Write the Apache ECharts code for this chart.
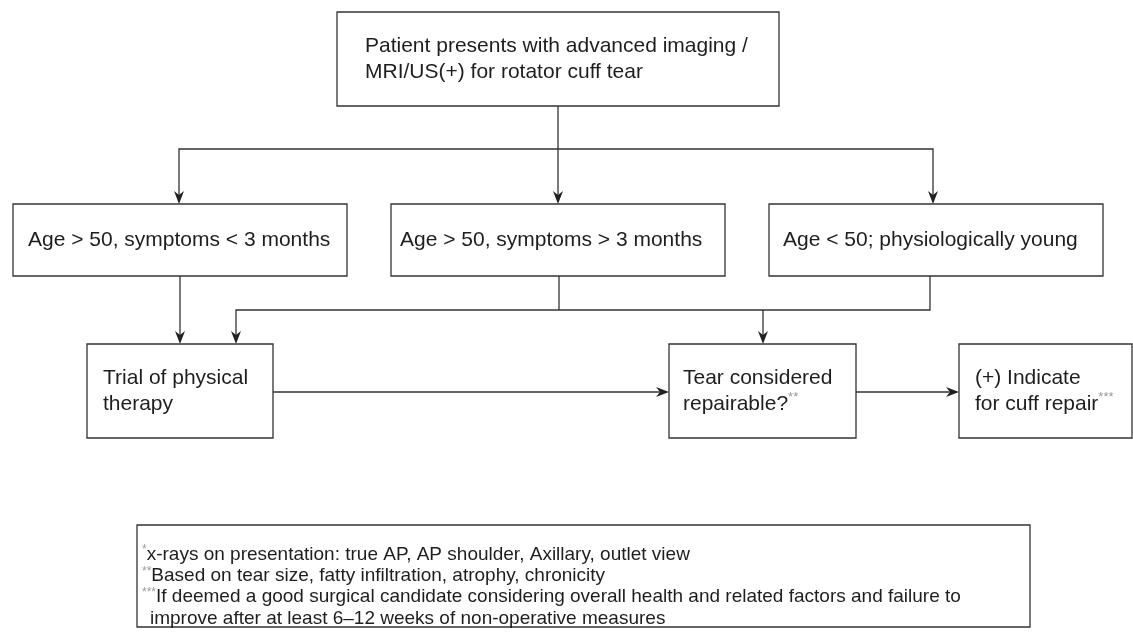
<!DOCTYPE html>
<html>
<head>
<meta charset="utf-8">
<script src="https://cdn.jsdelivr.net/npm/echarts@6/dist/echarts.min.js"></script>
<style>
  html, body { margin: 0; padding: 0; background: #fff; }
  #chart { width: 1133px; height: 639px; }
</style>
</head>
<body>
<div id="chart"></div>
<script>
// flowchart nodes (page coords, y grows down)
const nodeLabels = [
  'Patient presents with advanced imaging /\nMRI/US(+) for rotator cuff tear',
  'Age > 50, symptoms < 3 months',
  'Age > 50, symptoms > 3 months',
  'Age < 50; physiologically young',
  'Trial of physical\ntherapy',
  'Tear considered\nrepairable?{sup|**}',
  '(+) Indicate\nfor cuff repair{sup|***}'
];
const nodeLeft = [337, 13, 391, 769, 87, 669, 959];
const nodeTop = [12, 204, 204, 204, 344, 344, 344];
const nodeRight = [779, 347, 725, 1103, 273, 856, 1132];
const nodeBottom = [106, 276, 276, 276, 438, 438, 438];
const nodeTextX = [365, 28, 400, 783, 103, 683, 975];

// footnote box
const noteLines = [
  '{sup|*}x-rays on presentation: true AP, AP shoulder, Axillary, outlet view',
  '{sup|**}Based on tear size, fatty infiltration, atrophy, chronicity',
  '{sup|***}If deemed a good surgical candidate considering overall health and related factors and failure to',
  '{ind| }improve after at least 6\u201312 weeks of non-operative measures'
];
const noteBox = [137, 525, 1030, 627];

// connectors
const arrowPaths = [
  [[558, 106], [558, 204]],
  [[558, 149], [179, 149], [179, 204]],
  [[558, 149], [933, 149], [933, 204]],
  [[180, 276], [180, 344]],
  [[930, 276], [930, 310], [236, 310], [236, 344]],
  [[763, 310], [763, 344]],
  [[273, 392], [669, 392]],
  [[856, 392], [959, 392]]
];
const plainPaths = [
  [[559, 276], [559, 310]]
];

const FONT = '"Liberation Sans", Arial, Helvetica, sans-serif';
const INK = '#1e1e1e';
const LINE = '#333';

const chart = echarts.init(document.getElementById('chart'));

const nodeData = nodeLabels.map((t, i) => [nodeLeft[i], nodeTop[i], nodeRight[i], nodeBottom[i], nodeTextX[i]]);

function renderNode(params, api) {
  const p0 = api.coord([api.value(0), api.value(1)]);
  const p1 = api.coord([api.value(2), api.value(3)]);
  const tx = api.coord([api.value(4), 0])[0];
  return {
    type: 'group',
    children: [{
      type: 'rect',
      shape: { x: p0[0], y: p0[1], width: p1[0] - p0[0], height: p1[1] - p0[1] },
      style: { fill: '#fff', stroke: LINE, lineWidth: 1.3 }
    }, {
      type: 'text',
      style: {
        text: nodeLabels[params.dataIndex],
        x: tx,
        y: (p0[1] + p1[1]) / 2,
        fill: INK,
        fontSize: 21,
        fontFamily: FONT,
        lineHeight: 26,
        align: 'left',
        verticalAlign: 'middle',
        rich: { sup: { fontSize: 13, fill: '#9a9a9a', verticalAlign: 'top', lineHeight: 16 } }
      }
    }]
  };
}

function renderNote(params, api) {
  const p0 = api.coord([api.value(0), api.value(1)]);
  const p1 = api.coord([api.value(2), api.value(3)]);
  return {
    type: 'group',
    children: [{
      type: 'rect',
      shape: { x: p0[0], y: p0[1], width: p1[0] - p0[0], height: p1[1] - p0[1] },
      style: { fill: '#fff', stroke: LINE, lineWidth: 1.3 }
    }, {
      type: 'text',
      style: {
        text: noteLines.join('\n'),
        x: p0[0] + 5,
        y: p0[1] + 19,
        fill: INK,
        fontSize: 19,
        fontFamily: FONT,
        lineHeight: 21.3,
        align: 'left',
        verticalAlign: 'top',
        rich: {
          sup: { fontSize: 12, fill: '#9a9a9a', verticalAlign: 'top', lineHeight: 14 },
          ind: { width: 8, fontSize: 19, lineHeight: 21.3 }
        }
      }
    }]
  };
}

// polyline connector, optional notched arrowhead at the last point
function makeConnector(paths, withArrow) {
  return function (params, api) {
    const pts = paths[params.dataIndex].map(p => api.coord(p));
    const children = [];
    if (withArrow) {
      const n = pts.length;
      const a = pts[n - 2], b = pts[n - 1];
      const dx = b[0] - a[0], dy = b[1] - a[1];
      const len = Math.sqrt(dx * dx + dy * dy);
      const ux = dx / len, uy = dy / len;
      const px = -uy, py = ux;
      const L = 13, W = 5, notch = 4;
      const base = [b[0] - ux * L, b[1] - uy * L];
      const inner = [b[0] - ux * (L - notch), b[1] - uy * (L - notch)];
      const linePts = pts.slice(0, n - 1).concat([inner]);
      children.push({
        type: 'polyline',
        shape: { points: linePts },
        style: { stroke: LINE, lineWidth: 1.3, fill: null }
      });
      children.push({
        type: 'polygon',
        shape: { points: [b, [base[0] + px * W, base[1] + py * W], inner, [base[0] - px * W, base[1] - py * W]] },
        style: { fill: '#222', stroke: null }
      });
    } else {
      children.push({
        type: 'polyline',
        shape: { points: pts },
        style: { stroke: LINE, lineWidth: 1.3, fill: null }
      });
    }
    return { type: 'group', children: children };
  };
}

chart.setOption({
  animation: false,
  backgroundColor: '#fff',
  grid: { left: 0, right: 0, top: 0, bottom: 0 },
  xAxis: { type: 'value', min: 0, max: 1133, show: false },
  yAxis: { type: 'value', min: 0, max: 639, inverse: true, show: false },
  series: [
    {
      type: 'custom',
      renderItem: makeConnector(arrowPaths, true),
      z: 1,
      data: arrowPaths.map((p, i) => [i])
    },
    {
      type: 'custom',
      renderItem: makeConnector(plainPaths, false),
      z: 1,
      data: plainPaths.map((p, i) => [i])
    },
    {
      type: 'custom',
      renderItem: renderNode,
      z: 2,
      data: nodeData
    },
    {
      type: 'custom',
      renderItem: renderNote,
      z: 2,
      data: [noteBox]
    }
  ]
});
</script>
</body>
</html>
